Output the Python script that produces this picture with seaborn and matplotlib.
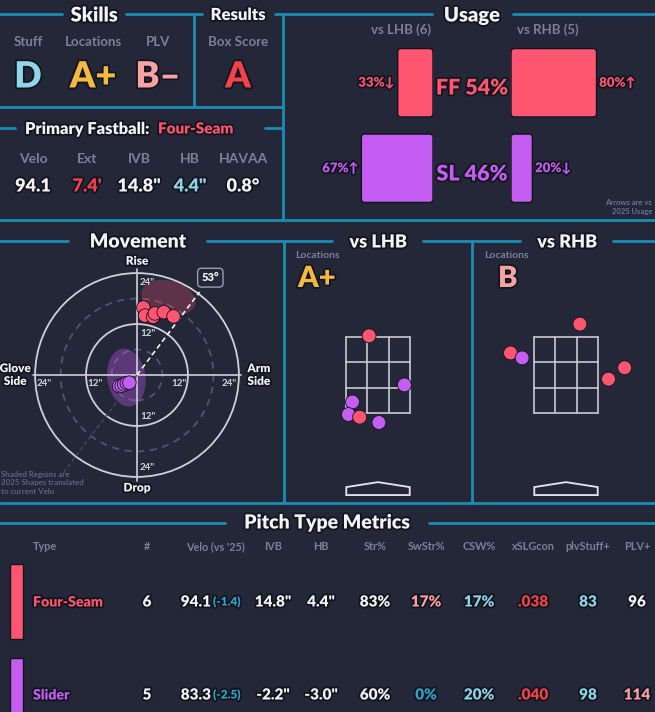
import matplotlib
matplotlib.use("Agg")
import matplotlib.pyplot as plt
import matplotlib.patheffects as pe
from matplotlib.lines import Line2D
from matplotlib.patches import Circle, Ellipse, Polygon, FancyBboxPatch
import numpy as np
import pandas as pd
import seaborn as sns

sns.set_theme(style="dark")
plt.rcParams['font.family'] = ['Lato', 'DejaVu Sans']

W, H = 655, 712
BG = '#232738'
TEAL = '#1b8db3'
GRAY = '#7b8197'
WHITE = '#f4f4f6'
FF_C = '#ff5571'
SL_C = '#c65df2'
RED = '#f2424b'
LBLUE = '#8fd6ea'
PINK = '#f7a3a3'
YELLOW = '#f4b942'
CYAN = '#2aa6cc'
DARK = '#12141d'

# ---- data ----
skill_labels = ['Stuff', 'Locations', 'PLV']
skill_grades = ['D', 'A+', 'B–']
skill_colors = [LBLUE, YELLOW, PINK]
box_score = 'A'

fb_labels = ['Velo', 'Ext', 'IVB', 'HB', 'HAVAA']
fb_values = ['94.1', "7.4'", '14.8"', '4.4"', '0.8°']
fb_colors = [WHITE, RED, WHITE, LBLUE, WHITE]

pitch_codes = ['FF', 'SL']
pitch_names = ['Four-Seam', 'Slider']
pitch_colors = [FF_C, SL_C]
overall_usage = [54, 46]
lhb_usage = [33, 67]
rhb_usage = [80, 20]
lhb_arrows = ['↓', '↑']
rhb_arrows = ['↑', '↓']
n_lhb, n_rhb = 6, 5

ff_hb = [1.5, 1.9, 3.8, 4.2, 6.3, 8.6]
ff_ivb = [15.9, 14.0, 13.7, 14.5, 14.8, 13.8]
sl_hb = [-4.2, -3.6, -3.0, -2.4, -1.8]
sl_ivb = [-2.6, -2.5, -2.2, -1.9, -1.8]
arm_angle = 53

lhb_x = [-0.20, 0.59, -0.57, -0.66, -0.41, 0.02]
lhb_z = [3.53, 2.24, 1.79, 1.46, 1.39, 1.25]
lhb_pitch = ['FF', 'SL', 'SL', 'SL', 'FF', 'SL']
rhb_x = [0.31, -1.24, -0.98, 1.31, 0.95]
rhb_z = [3.84, 3.08, 2.95, 2.69, 2.39]
rhb_pitch = ['FF', 'FF', 'SL', 'FF', 'FF']

headers = ['Type', '#', "Velo (vs '25)", 'IVB', 'HB', 'Str%', 'SwStr%', 'CSW%', 'xSLGcon', 'plvStuff+', 'PLV+']
counts = [6, 5]
velo = ['94.1', '83.3']
velo_diff = ['(-1.4)', '(-2.5)']
ivb = ['14.8"', '-2.2"']
hb = ['4.4"', '-3.0"']
str_pct = ['83%', '60%']
swstr = ['17%', '0%']
csw = ['17%', '20%']
xslg = ['.038', '.040']
stuff_plus = ['83', '98']
plv_plus = ['96', '114']
swstr_c = [PINK, CYAN]
csw_c = [LBLUE, LBLUE]
xslg_c = [RED, RED]
stuff_c = [LBLUE, LBLUE]
plv_c = [WHITE, PINK]
str_c = [WHITE, WHITE]

# ---- helpers in pixel coords ----
fig = plt.figure(figsize=(W / 100, H / 100), dpi=100)
fig.patch.set_facecolor(BG)
STROKE = [pe.withStroke(linewidth=2.5, foreground=DARK)]


def fx(x):
    return x / W


def fy(y):
    return 1 - y / H


def hline(x0, x1, y, color=TEAL, lw=2):
    fig.add_artist(Line2D([fx(x0), fx(x1)], [fy(y), fy(y)], color=color, lw=lw))


def vline(x, y0, y1, color=TEAL, lw=2):
    fig.add_artist(Line2D([fx(x), fx(x)], [fy(y0), fy(y1)], color=color, lw=lw))


def txt(x, y, s, size=10, color=WHITE, ha='center', va='center', weight='heavy', stroke=True, **kw):
    return fig.text(fx(x), fy(y), s, fontsize=size, color=color, ha=ha, va=va,
                    fontweight=weight, path_effects=STROKE if stroke else None, **kw)


def px_axes(x0, y0, w, h):
    ax = fig.add_axes([fx(x0), fy(y0 + h), w / W, h / H])
    ax.set_facecolor('none')
    return ax


def round_bars(ax, xpx, ypx):
    # swap seaborn's square bars for rounded ones (ratio of px per data unit)
    for p in list(ax.patches):
        x, y, w, h = p.get_x(), p.get_y(), p.get_width(), p.get_height()
        rs = 3.5 / xpx
        ax.add_patch(FancyBboxPatch((x, y), w, h, boxstyle=f'round,pad=0,rounding_size={rs}',
                                    mutation_aspect=xpx / ypx, fc=p.get_facecolor(),
                                    ec=DARK, lw=1))
        p.remove()


# ---- frame lines & section titles ----
hline(0, 62, 14); hline(126, 202, 14); hline(275, 283, 14)
txt(94, 15, 'Skills', 14.5); txt(238, 15, 'Results', 12)
vline(194, 14, 107); vline(283, 14, 220)
hline(0, 283, 107)
hline(0, 15, 128); hline(265, 283, 128)
hline(283, 432, 14); hline(513, 655, 14)
txt(472, 15, 'Usage', 14.5)
hline(0, 655, 220)

hline(0, 68, 241); hline(207, 284, 241)
txt(138, 242, 'Movement', 14)
hline(284, 332, 241); hline(423, 520, 241); hline(613, 655, 241)
txt(378, 242, 'vs LHB', 13); txt(567, 242, 'vs RHB', 13)
vline(284, 241, 503); vline(472, 241, 503)
hline(0, 655, 503)
hline(0, 225, 523); hline(429, 655, 523)
txt(327, 523, 'Pitch Type Metrics', 14)

# ---- skills ----
for lab, g, c, x in zip(skill_labels, skill_grades, skill_colors, [28, 93, 158]):
    txt(x, 42, lab, 9.5, GRAY, weight='bold', stroke=False)
    txt(x, 77, g, 26, c)
txt(238, 42, 'Box Score', 9.5, GRAY, weight='bold', stroke=False)
txt(238, 77, box_score, 26, RED)

txt(25, 129, 'Primary Fastball:', 11.8, ha='left')
txt(158, 129, pitch_names[0], 11, FF_C, ha='left')
for lab, v, c, x in zip(fb_labels, fb_values, fb_colors, [33, 87, 139, 190, 243]):
    txt(x, 159, lab, 10, GRAY, weight='bold', stroke=False)
    txt(x, 186, v, 13, c)

# ---- usage bars ----
axL = px_axes(340, 40, 93, 171)
sns.barplot(x=lhb_usage, y=pitch_codes, hue=pitch_codes, palette=pitch_colors, orient='h',
            width=0.8, saturation=1, legend=False, ax=axL)
axL.set_xlim(87, 0)
axL.set_ylim(1.5, -0.5)
axL.axis('off')
round_bars(axL, 93 / 87, 171 / 2)
for i, (v, a) in enumerate(zip(lhb_usage, lhb_arrows)):
    axL.text(v + 2.5, i, f'{v}%{a}', ha='right', va='center', color=pitch_colors[i],
             fontsize=9.5, fontweight='heavy', path_effects=STROKE)

axR = px_axes(511, 40, 93, 171)
sns.barplot(x=rhb_usage, y=pitch_codes, hue=pitch_codes, palette=pitch_colors, orient='h',
            width=0.8, saturation=1, legend=False, ax=axR)
axR.set_xlim(0, 87)
axR.set_ylim(1.5, -0.5)
axR.axis('off')
round_bars(axR, 93 / 87, 171 / 2)
for i, (v, a) in enumerate(zip(rhb_usage, rhb_arrows)):
    axR.text(v + 2.5, i, f'{v}%{a}', ha='left', va='center', color=pitch_colors[i],
             fontsize=9.5, fontweight='heavy', path_effects=STROKE)

for i, (code, u) in enumerate(zip(pitch_codes, overall_usage)):
    txt(472, 88 + i * 86, f'{code} {u}%', 15.5, pitch_colors[i])
txt(401, 30, f'vs LHB ({n_lhb})', 9.5, GRAY, weight='bold', stroke=False)
txt(548, 30, f'vs RHB ({n_rhb})', 9.5, GRAY, weight='bold', stroke=False)
txt(652, 207, 'Arrows are vs\n2025 Usage', 5.5, '#6f7588', ha='right', weight='bold',
    stroke=False, linespacing=1.3)

# ---- movement ----
R = 28.5
axM = px_axes(16, 254, 242, 242)
for r, ls, c in [(24, '-', '#cfd0d8'), (12, '-', '#cfd0d8'),
                 (18, (0, (4, 3)), '#50556a'), (6, (0, (4, 3)), '#50556a')]:
    axM.add_patch(Circle((0, 0), r, fill=False, ec=c, lw=1.3, ls=ls))
axM.plot([-24.5, 24.5], [0, 0], color='#cfd0d8', lw=1.2)
axM.plot([0, 0], [-25, 25], color='#cfd0d8', lw=1.2)
axM.add_patch(Ellipse((7.4, 18.2), 13.0, 8.0, angle=-14, color=FF_C, alpha=0.27, lw=0))
axM.add_patch(Ellipse((-2.5, -0.6), 9.0, 13.7, angle=8, color=SL_C, alpha=0.35, lw=0))
rad = np.deg2rad(arm_angle)
axM.plot([0, 24.5 * np.cos(rad)], [0, 24.5 * np.sin(rad)], color=WHITE, lw=1.2, ls=(0, (3, 2)))
axM.plot([0, -30 * np.cos(rad)], [0, -30 * np.sin(rad)], color='#454a5e', lw=1, ls=(0, (3, 2)))
axM.text(28.7 * np.cos(rad), 28.7 * np.sin(rad), f'{arm_angle}°', ha='center', va='center',
         color=WHITE, fontsize=8, fontweight='heavy',
         bbox=dict(boxstyle='round,pad=0.35', fc=BG, ec='#9a9eae', lw=1))
mv = pd.DataFrame({'hb': ff_hb + sl_hb, 'ivb': ff_ivb + sl_ivb,
                   'pitch': ['FF'] * len(ff_hb) + ['SL'] * len(sl_hb)})
sns.scatterplot(data=mv, x='hb', y='ivb', hue='pitch', palette=dict(zip(pitch_codes, pitch_colors)),
                s=95, edgecolor=DARK, linewidth=0.6, legend=False, ax=axM, zorder=5)
axM.set_xlim(-R, R)
axM.set_ylim(-R, R)
axM.set_aspect('equal')
axM.axis('off')
for r in [12, 24]:
    for sgn in [1, -1]:
        axM.text(0.7, sgn * (r - 2.2), f'{r}"', ha='left', va='center', color='#d5d6de',
                 fontsize=7, fontweight='bold')
        axM.text(sgn * (r - 2.2), -1.9, f'{r}"', ha='center', va='center', color='#d5d6de',
                 fontsize=7, fontweight='bold')
for lab, (xx, yy) in [('Rise', (0, 26.8)), ('Drop', (0, -26.6)),
                      ('Glove\nSide', (-28.7, 0)), ('Arm\nSide', (28.7, 0))]:
    axM.text(xx, yy, lab, ha='center', va='center', color=WHITE, fontsize=8.5,
             fontweight='heavy', path_effects=STROKE)
txt(1, 483, 'Shaded Regions are\n2025 Shapes translated\nto current Velo', 5.7, '#5f6477',
    ha='left', weight='bold', stroke=False, linespacing=1.25)

# ---- locations ----
zx = [-17 / 24, -17 / 72, 17 / 72, 17 / 24]
zz = [1.5, 2.1667, 2.8333, 3.5]
plate = [(-17 / 24, -0.66), (17 / 24, -0.66), (17 / 24, -0.45), (0, -0.32), (-17 / 24, -0.45)]
loc_sets = [(284, lhb_x, lhb_z, lhb_pitch, 'A+', YELLOW, 295, 298),
            (472, rhb_x, rhb_z, rhb_pitch, 'B', PINK, 484, 498)]
for x0, lx, lz, lp, grade, gc, lab_x, grade_x in loc_sets:
    ax = px_axes(x0, 250, 188, 250)
    for xv in zx:
        ax.plot([xv, xv], [zz[0], zz[-1]], color='#c9cad2', lw=1.2)
    for zv in zz:
        ax.plot([zx[0], zx[-1]], [zv, zv], color='#c9cad2', lw=1.2)
    ax.add_patch(Polygon(plate, closed=True, fill=False, ec='#e8e8ee', lw=1.3))
    df = pd.DataFrame({'x': lx, 'z': lz, 'pitch': lp})
    sns.scatterplot(data=df, x='x', y='z', hue='pitch', palette=dict(zip(pitch_codes, pitch_colors)),
                    s=100, edgecolor=DARK, linewidth=0.6, legend=False, ax=ax, zorder=5)
    ax.set_xlim(-2.1, 2.1)
    ax.set_ylim(-0.79, 5.79)
    ax.axis('off')
    txt(lab_x, 256, 'Locations', 7.5, GRAY, ha='left', weight='bold', stroke=False)
    txt(grade_x, 279, grade, 21, gc, ha='left')

# ---- table ----
hx = [33, 147, 215, 273, 321, 375, 426, 479, 533, 588, 637]
for i, h in enumerate(headers):
    txt(hx[i], 547, h, 7.8, GRAY, ha='left' if i == 0 else 'center', weight='bold', stroke=False)
row_y = [602, 695]
bar_top = [564, 658]
for r in range(2):
    y = row_y[r]
    fig.add_artist(plt.Rectangle((fx(10), fy(bar_top[r] + 75)), 13 / W, 75 / H,
                                 fc=pitch_colors[r], ec=DARK, lw=1))
    txt(33, y, pitch_names[r], 10.2, pitch_colors[r], ha='left')
    txt(147, y, str(counts[r]), 11)
    txt(211, y, velo[r], 11, ha='right')
    txt(213, y, velo_diff[r], 8.5, CYAN, ha='left')
    txt(273, y, ivb[r], 11)
    txt(321, y, hb[r], 11)
    txt(375, y, str_pct[r], 11, str_c[r])
    txt(426, y, swstr[r], 11, swstr_c[r])
    txt(479, y, csw[r], 11, csw_c[r])
    txt(533, y, xslg[r], 11, xslg_c[r])
    txt(588, y, stuff_plus[r], 11, stuff_c[r])
    txt(637, y, plv_plus[r], 11, plv_c[r])

fig.savefig('out.png', dpi=100, facecolor=BG)
